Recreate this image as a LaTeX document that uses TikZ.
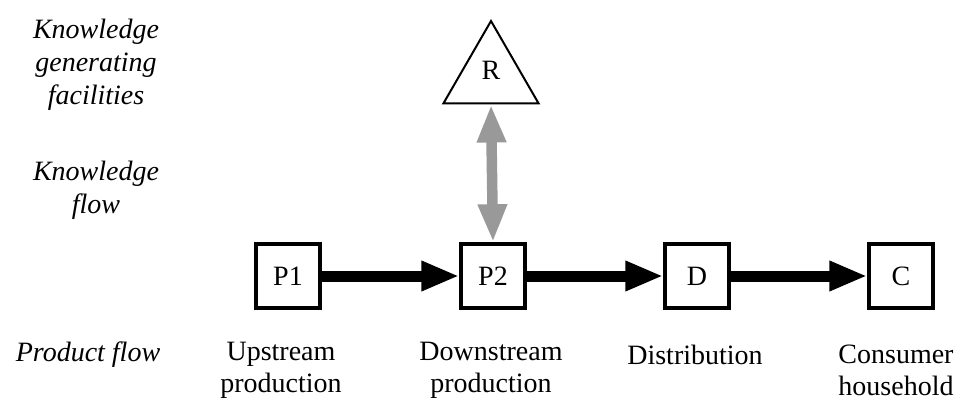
\documentclass[tikz,border=0pt]{standalone}
\usepackage{fontspec}
\setmainfont{Liberation Serif}
\usetikzlibrary{arrows.meta,shapes.geometric}
\begin{document}
\begin{tikzpicture}[x=1pt,y=-1pt,
  every node/.style={font=\fontsize{28}{32}\selectfont},
  box/.style={draw,line width=3.5pt,minimum size=64pt,inner sep=0pt},
  tri/.style={draw,line width=2pt,regular polygon,regular polygon sides=3,minimum size=110pt,inner sep=0pt},
  lbl/.style={align=center,inner sep=0pt},
  side/.style={align=center,inner sep=0pt,font=\fontsize{28}{33}\selectfont\itshape},
  prod/.style={line width=11pt,-{Triangle[width=28pt,length=38pt]}},
  know/.style={line width=10.5pt,color=black!40,{Triangle[width=27pt,length=38pt]}-{Triangle[width=27pt,length=38pt]}}]
\useasboundingbox (0,0) rectangle (962,401);
\node[box] (P1) at (288,276) {P1};
\node[box] (P2) at (493,276) {P2};
\node[box] (D) at (697,276) {D};
\node[box] (C) at (901,276) {C};
\node[tri] (R) at (491,76) {};
\node[inner sep=0pt] (Rl) at (491,70) {R};
\draw[prod] (P1.east) -- (P2.west);
\draw[prod] (P2.east) -- (D.west);
\draw[prod] (D.east) -- (C.west);
\draw[know] (R.south) -- (P2.north);
\node[side] (kgf) at (96,65) {Knowledge\\generating\\facilities};
\node[side] (kf) at (96,190) {Knowledge\\flow};
\node[side] (pf) at (88,355) {Product flow};
\node[lbl] (up) at (281,370) {Upstream\\production};
\node[lbl] (down) at (491,370) {Downstream\\production};
\node[lbl] (dist) at (695,355) {Distribution};
\node[lbl] (cons) at (896,370) {Consumer\\household};
\end{tikzpicture}
\end{document}
